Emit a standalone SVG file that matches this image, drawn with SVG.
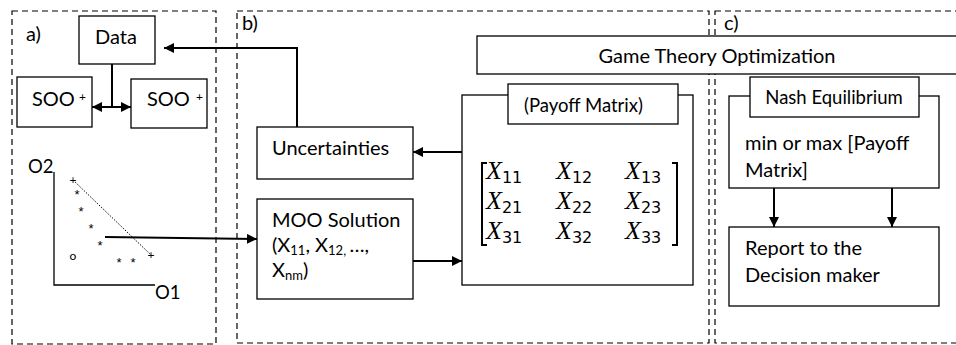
<svg xmlns="http://www.w3.org/2000/svg" width="956" height="345" viewBox="0 0 956 345">
<style>
.panel{fill:none;stroke:#000;stroke-width:1.2;stroke-dasharray:6 4}
.box{fill:#fff;stroke:#000;stroke-width:1.3}
.t{font-family:Lato,"Open Sans","Liberation Sans",sans-serif;font-size:20px;fill:#000}
.lbl{font-family:Lato,"Open Sans","Liberation Sans",sans-serif;font-size:18.5px;fill:#000}
.sm{font-family:Lato,"Liberation Sans",sans-serif;font-size:12px;fill:#000}
.ast{font-family:"Liberation Sans",sans-serif;font-size:13px;fill:#000;text-anchor:middle}
.mx{font-family:"Liberation Serif",serif;font-style:italic;font-size:26px;fill:#000}
.sub{font-family:"DejaVu Sans","Liberation Sans",sans-serif;font-size:16px;font-style:normal}
.ln{fill:none;stroke:#000;stroke-width:2}
.thin{fill:none;stroke:#000;stroke-width:1.3}
</style>
<defs>
<marker id="ah" viewBox="0 0 10 10" refX="10" refY="5" markerWidth="5" markerHeight="5" orient="auto-start-reverse" markerUnits="strokeWidth">
<path d="M0,0 L10,5 L0,10 z" fill="#000"/>
</marker>
</defs>
<rect width="956" height="345" fill="#fff"/>
<g id="panels">
<rect class="panel" x="12" y="11" width="204" height="333"/>
<rect class="panel" x="237" y="11" width="472" height="332"/>
<rect class="panel" x="715" y="11" width="250" height="332"/>
<text class="t" x="26" y="41">a)</text>
<text class="t" x="242" y="30">b)</text>
<text class="t" x="724" y="30">c)</text>
</g>
<g id="chart">
<path class="thin" d="M54,172 V285 H155"/>
<line x1="73" y1="180" x2="151" y2="255" stroke="#000" stroke-width="1" stroke-dasharray="1.5 1.5"/>
<text class="lbl" x="28" y="173" font-size="15">O2</text>
<text class="lbl" x="155" y="299" font-size="15">O1</text>
<text class="sm" x="73" y="184" text-anchor="middle">+</text>
<text class="sm" x="151" y="259" text-anchor="middle">+</text>
<text class="ast" x="77" y="199">*</text>
<text class="ast" x="81" y="216">*</text>
<text class="ast" x="91" y="233">*</text>
<text class="ast" x="100" y="250">*</text>
<text class="ast" x="119" y="267">*</text>
<text class="ast" x="133" y="267">*</text>
<text class="sm" x="73" y="260" text-anchor="middle" font-size="13">o</text>
</g>
<g id="connectors">
<path class="ln" d="M297,127 V48 H164" marker-end="url(#ah)"/>
<line class="ln" x1="112" y1="64" x2="112" y2="107"/>
<line class="ln" x1="92" y1="107" x2="131" y2="107" marker-start="url(#ah)" marker-end="url(#ah)"/>
<line class="ln" x1="105" y1="237" x2="257" y2="239" marker-end="url(#ah)"/>
<line class="ln" x1="462" y1="152" x2="413" y2="152" marker-end="url(#ah)"/>
<line class="ln" x1="413" y1="261" x2="462" y2="261" marker-end="url(#ah)"/>
<line class="ln" x1="774" y1="188" x2="774" y2="227" marker-end="url(#ah)"/>
<line class="ln" x1="892" y1="188" x2="892" y2="227" marker-end="url(#ah)"/>
</g>
<g id="data">
<rect class="box" x="79" y="16" width="76" height="48"/>
<text class="t" x="116" y="44" text-anchor="middle">Data</text>
</g>
<g id="soo1">
<rect class="box" x="17" y="77" width="75" height="50"/>
<text class="t" x="32" y="106">SOO</text>
<text class="sm" x="79" y="101">+</text>
</g>
<g id="soo2">
<rect class="box" x="131" y="79" width="76" height="49"/>
<text class="t" x="147" y="106">SOO</text>
<text class="sm" x="196" y="101">+</text>
</g>
<g id="uncertainties">
<rect class="box" x="257" y="127" width="156" height="52"/>
<text class="t" x="272" y="155">Uncertainties</text>
</g>
<g id="moo">
<rect class="box" x="257" y="199" width="156" height="100"/>
<text class="t" x="272" y="227">MOO Solution</text>
<text class="t" x="272" y="252">(X<tspan font-size="13" dy="3">11</tspan><tspan dy="-3">, X</tspan><tspan font-size="13" dy="3">12, </tspan><tspan dy="-3">…,</tspan></text>
<text class="t" x="272" y="277">X<tspan font-size="13" dy="3">nm</tspan><tspan dy="-3">)</tspan></text>
</g>
<g id="game-theory">
<rect class="box" x="477" y="36" width="490" height="38"/>
<text class="t" x="717" y="63" text-anchor="middle" font-size="18">Game Theory Optimization</text>
</g>
<g id="payoff">
<rect class="box" x="462" y="95" width="231" height="190"/>
<rect class="box" x="508" y="84" width="170" height="40"/>
<text class="lbl" x="524" y="112">(Payoff Matrix)</text>
<path class="ln" d="M487,163 H482 V245 H487"/>
<path class="ln" d="M672,163 H677 V245 H672"/>
<g class="mx">
<text x="486" y="179">X<tspan class="sub" dy="4">11</tspan></text>
<text x="556" y="179">X<tspan class="sub" dy="4">12</tspan></text>
<text x="625" y="179">X<tspan class="sub" dy="4">13</tspan></text>
<text x="486" y="209">X<tspan class="sub" dy="4">21</tspan></text>
<text x="556" y="209">X<tspan class="sub" dy="4">22</tspan></text>
<text x="625" y="209">X<tspan class="sub" dy="4">23</tspan></text>
<text x="486" y="239">X<tspan class="sub" dy="4">31</tspan></text>
<text x="556" y="239">X<tspan class="sub" dy="4">32</tspan></text>
<text x="625" y="239">X<tspan class="sub" dy="4">33</tspan></text>
</g>
</g>
<g id="nash">
<rect class="box" x="729" y="96" width="210" height="92"/>
<rect class="box" x="750" y="77" width="169" height="40"/>
<text class="lbl" x="834" y="104" text-anchor="middle">Nash Equilibrium</text>
<text class="t" x="745" y="150">min or max [Payoff</text>
<text class="t" x="745" y="177">Matrix]</text>
</g>
<g id="report">
<rect class="box" x="729" y="227" width="210" height="79"/>
<text class="t" x="745" y="255">Report to the</text>
<text class="t" x="745" y="282">Decision maker</text>
</g>
</svg>
